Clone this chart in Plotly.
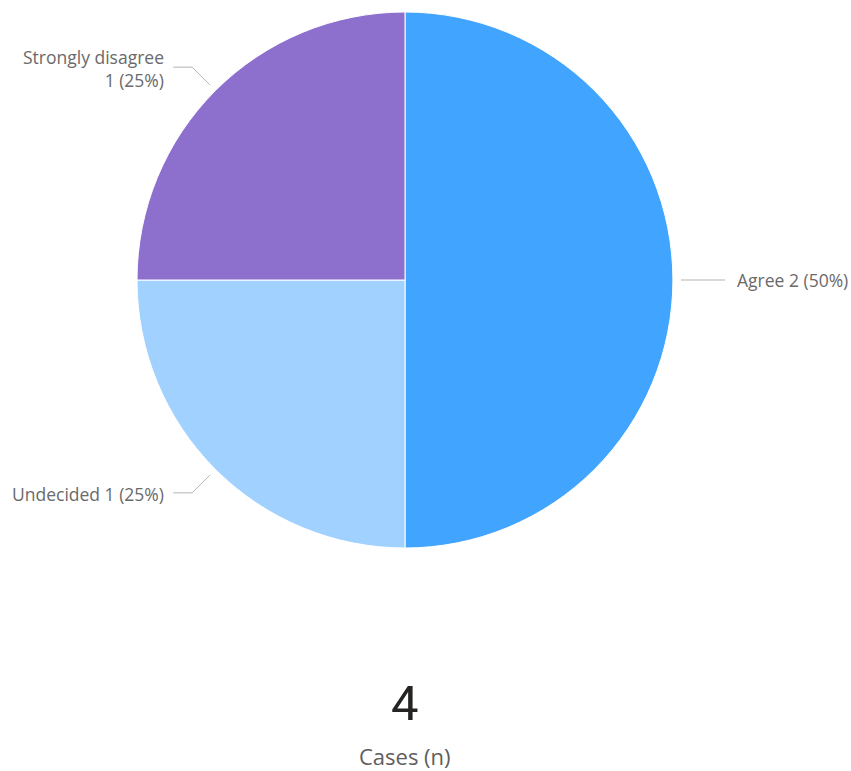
import math
import plotly.graph_objects as go

# Survey responses
categories = ["Agree", "Undecided", "Strongly disagree"]
counts = [2, 1, 1]
colors = ["#41A4FF", "#A0D1FF", "#8D6FCE"]

W, H = 851, 771
CX, CY, R = 405, 280, 268  # pie centre and radius in pixels

total = sum(counts)

fig = go.Figure(go.Pie(
    labels=categories,
    values=counts,
    sort=False,
    direction="clockwise",
    rotation=0,
    textinfo="none",
    hoverinfo="label+value+percent",
    marker=dict(colors=colors, line=dict(color="white", width=1)),
    domain=dict(x=[(CX - R) / W, (CX + R) / W], y=[1 - (CY + R) / H, 1 - (CY - R) / H]),
    showlegend=False,
))

def px(x):
    return x / W

def py(y):
    return 1 - y / H

shapes = []
annotations = []
label_font = dict(family="Open Sans, sans-serif", size=17.5, color="#6A6A6A")

cum = 0
for name, v in zip(categories, counts):
    mid = (cum + v / 2) / total * 2 * math.pi  # clockwise from 12 o'clock
    cum += v
    dx, dy = math.sin(mid), -math.cos(mid)
    pct = round(v / total * 100)
    sx, sy = CX + (R + 8) * dx, CY + (R + 8) * dy
    if abs(dy) < 1e-6:
        # straight horizontal leader
        ex, ey = CX + (R + 8 + 44) * dx, sy
        path = f"M {px(sx)},{py(sy)} L {px(ex)},{py(ey)}"
        text = f"{name} {v} ({pct}%)"
        ty = ey
    else:
        bx, by = CX + (R + 33) * dx, CY + (R + 33) * dy
        side = 1 if dx > 0 else -1
        ex, ey = bx + side * 19, by
        path = f"M {px(sx)},{py(sy)} L {px(bx)},{py(by)} L {px(ex)},{py(ey)}"
        if dy < 0:
            text = f"{name}<br>{v} ({pct}%)"
        else:
            text = f"{name} {v} ({pct}%)"
        ty = ey + 1
    shapes.append(dict(type="path", path=path, xref="paper", yref="paper",
                       line=dict(color="#B3B3B3", width=1)))
    anchor = "left" if dx > 0 else "right"
    gap = 10 if dx > 0 else -7
    annotations.append(dict(
        x=px(ex + gap), y=py(ty), xref="paper", yref="paper",
        text=text, showarrow=False, xanchor=anchor, yanchor="middle",
        align=anchor, font=label_font,
    ))

# Card showing the number of cases
annotations.append(dict(
    x=px(CX), y=py(703), xref="paper", yref="paper", text=str(total),
    showarrow=False, xanchor="center", yanchor="middle",
    font=dict(family="Roboto, sans-serif", size=49, color="#252423"),
))
annotations.append(dict(
    x=px(CX), y=py(756), xref="paper", yref="paper", text="Cases (n)",
    showarrow=False, xanchor="center", yanchor="middle",
    font=dict(family="Open Sans, sans-serif", size=22, color="#605E5C"),
))

fig.update_layout(
    width=W, height=H,
    margin=dict(l=0, r=0, t=0, b=0),
    paper_bgcolor="white", plot_bgcolor="white",
    shapes=shapes, annotations=annotations,
)

fig.write_html("out.html")
